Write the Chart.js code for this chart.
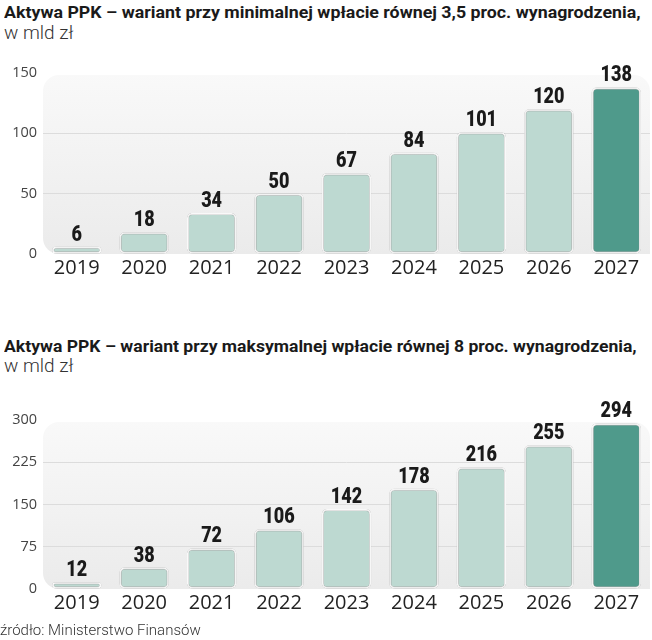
<!DOCTYPE html>
<html>
<head>
<meta charset="utf-8">
<script src="https://cdn.jsdelivr.net/npm/chart.js@4.4.1/dist/chart.umd.min.js"></script>
<style>
  body { margin: 0; background: #fff; width: 652px; height: 640px; position: relative; overflow: hidden; }
  .title { position: absolute; left: 4px; font-family: Roboto, sans-serif; font-weight: bold; font-size: 17px; line-height: 20px; color: #1a1a1a; white-space: nowrap; transform-origin: 0 0; }
  .unit { position: absolute; left: 4px; font-family: Roboto, sans-serif; font-weight: 300; font-size: 19px; line-height: 22px; color: #333; }
  .src { position: absolute; left: 0; top: 621px; font-family: Roboto, sans-serif; font-weight: 300; font-size: 15px; line-height: 18px; color: #333; }
  .box { position: absolute; left: 0; width: 652px; height: 240px; }
</style>
</head>
<body>

<div class="title" id="t1" style="top:2px">Aktywa PPK – wariant przy minimalnej wpłacie równej 3,5 proc. wynagrodzenia,</div>
<div class="unit" style="top:22px">w mld zł</div>
<div class="box" style="top:50px"><canvas id="chartMin"></canvas></div>

<div class="title" id="t2" style="top:336px">Aktywa PPK – wariant przy maksymalnej wpłacie równej 8 proc. wynagrodzenia,</div>
<div class="unit" style="top:355px">w mld zł</div>
<div class="box" style="top:385px"><canvas id="chartMax"></canvas></div>

<div class="src">źródło: Ministerstwo Finansów</div>

<script>
/* ------------------------------
   DATA
--------------------------------*/

const years = ["2019", "2020", "2021", "2022", "2023", "2024", "2025", "2026", "2027"];
const minVariant = [6, 18, 34, 50, 67, 84, 101, 120, 138];
const maxVariant = [12, 38, 72, 106, 142, 178, 216, 255, 294];
const minTicks = [0, 50, 100, 150];
const maxTicks = [0, 75, 150, 225, 300];

const lightBar = "#bdd9d1";
const darkBar = "#4f9a8b";

/* condensed look for the headlines */
function squeeze(id, right) {
    const el = document.getElementById(id);
    const w = el.scrollWidth;
    el.style.transform = "scaleX(" + ((right - 4) / w) + ")";
}
squeeze("t1", 641);
squeeze("t2", 637);

/* ------------------------------
   PLUGINS: panel background + value labels
--------------------------------*/

const panelBg = {
    id: "panelBg",
    beforeDraw(chart) {
        const { ctx, chartArea: a } = chart;
        const g = ctx.createLinearGradient(a.left, a.top, a.left, a.bottom);
        g.addColorStop(0, "#f9f9f9");
        g.addColorStop(1, "#ebebeb");
        ctx.save();
        ctx.fillStyle = g;
        ctx.beginPath();
        ctx.roundRect(a.left, a.top + 2, a.right - a.left, a.bottom - a.top - 2, [16, 16, 0, 16]);
        ctx.fill();
        ctx.restore();
    },
    beforeDatasetsDraw(chart) {
        const ctx = chart.ctx;
        ctx.save();
        ctx.shadowColor = "rgba(0,0,0,0.45)";
        ctx.shadowBlur = 2;
    },
    afterDatasetsDraw(chart) {
        const ctx = chart.ctx;
        ctx.restore();
        const data = chart.data.datasets[0].data;
        chart.getDatasetMeta(0).data.forEach((bar, i) => {
            ctx.save();
            ctx.font = "900 22px Roboto, sans-serif";
            ctx.fillStyle = "#1a1a1a";
            ctx.textAlign = "center";
            ctx.textBaseline = "alphabetic";
            ctx.translate(bar.x, bar.y - 6);
            ctx.scale(0.82, 1);
            ctx.fillText(data[i], 0, 0);
            ctx.restore();
        });
    }
};

/* ------------------------------
   CHART BUILDER
--------------------------------*/

function makeChart(id, values, tickValues, padTop, padBottom) {
    const top = tickValues[tickValues.length - 1];
    return new Chart(document.getElementById(id), {
        type: "bar",
        data: {
            labels: years,
            datasets: [{
                data: values,
                backgroundColor: values.map((v, i) => i === values.length - 1 ? darkBar : lightBar),
                borderColor: "#ffffff",
                borderWidth: 2,
                borderRadius: 5,
                borderSkipped: false,
                barPercentage: 0.73,
                categoryPercentage: 1
            }]
        },
        options: {
            responsive: true,
            maintainAspectRatio: false,
            animation: false,
            layout: { padding: { top: padTop, right: 2, bottom: padBottom, left: 0 } },
            plugins: { legend: { display: false }, tooltip: { enabled: false } },
            scales: {
                x: {
                    afterFit: s => { s.height = 28; },
                    grid: { display: false, drawTicks: false, tickLength: 0 },
                    border: { display: false },
                    ticks: {
                        padding: 2,
                        color: "#222",
                        font: { family: "'Open Sans', sans-serif", size: 20 }
                    }
                },
                y: {
                    min: 0,
                    max: top,
                    afterBuildTicks: s => { s.ticks = tickValues.map(v => ({ value: v })); },
                    afterFit: s => { s.width = 43; },
                    grid: {
                        drawTicks: false,
                        color: c => (c.tick.value === 0 || c.tick.value === top) ? "rgba(0,0,0,0)" : "#dcdcdc"
                    },
                    border: { display: false },
                    ticks: {
                        padding: 6,
                        color: "#444",
                        font: { family: "'Open Sans', sans-serif", size: 14.5 }
                    }
                }
            }
        },
        plugins: [panelBg]
    });
}

makeChart("chartMin", minVariant, minTicks, 23, 8);
makeChart("chartMax", maxVariant, maxTicks, 35, 8);
</script>
</body>
</html>
